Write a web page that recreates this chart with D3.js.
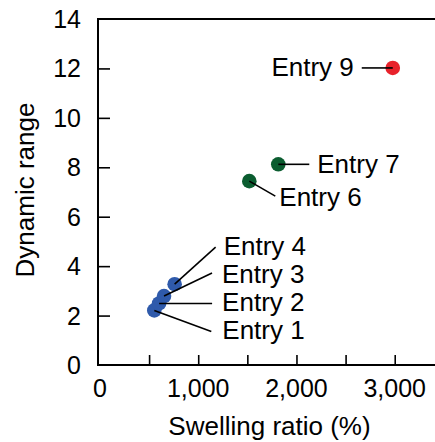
<!DOCTYPE html>
<html>
<head>
<meta charset="utf-8">
<script src="https://cdn.jsdelivr.net/npm/d3@7"></script>
<style>
  html, body { margin: 0; padding: 0; background: #fff; }
  svg { display: block; }
  text { font-family: "Liberation Sans", Arial, Helvetica, sans-serif; fill: #000; }
</style>
</head>
<body>
<svg id="chart" width="435" height="442"></svg>
<script>
// ---- data ----
const entries = ["Entry 1", "Entry 2", "Entry 3", "Entry 4", "Entry 6", "Entry 7", "Entry 9"];
const swellingRatio = [553, 602, 652, 760, 1520, 1815, 2980];
const dynamicRange = [2.21, 2.49, 2.79, 3.27, 7.44, 8.12, 12.02];
const groups = ["A", "A", "A", "A", "B", "B", "C"];
const xTickValues = [0, 1000, 2000, 3000];
const xMinorTicks = [500, 1000, 1500, 2000, 2500, 3000];
const yTickValues = [0, 2, 4, 6, 8, 10, 12, 14];

// ---- styling / layout ----
const groupColor = { A: "#2f5aab", B: "#0b5d30", C: "#e8222b" };
// leader end offset from the point (px) and text offset from the leader end
const labelLayout = [
  { lx: 57, ly: 21, tx: 11, ty: 8, anchor: "start" },
  { lx: 53, ly: 0, tx: 10, ty: 8, anchor: "start" },
  { lx: 48, ly: -23, tx: 10, ty: 10, anchor: "start" },
  { lx: 41, ly: -37, tx: 8, ty: 8, anchor: "start" },
  { lx: 26, ly: 15, tx: 4, ty: 10, anchor: "start" },
  { lx: 31, ly: 0, tx: 8, ty: 9, anchor: "start" },
  { lx: -31, ly: 0, tx: -8, ty: 8, anchor: "end" }
];

const svg = d3.select("#chart");
const tickFont = 25;
const labelFont = 26;
const titleFont = 26;

const x = d3.scaleLinear().domain([-20, 3410]).range([98, 435]);
const y = d3.scaleLinear().domain([0, 14]).range([365, 19]);

const frameLeft = x(-20), frameRight = 440, frameTop = y(14), frameBottom = y(0);

// frame (open on the right where the plot runs to the edge)
svg.append("path")
  .attr("d", `M${frameRight},${frameTop}H${frameLeft}V${frameBottom}H${frameRight}`)
  .attr("fill", "none")
  .attr("stroke", "#000")
  .attr("stroke-width", 2);

// inward ticks
const xAxis = d3.axisTop(x).tickValues(xMinorTicks).tickSize(10).tickFormat("");
svg.append("g").attr("transform", `translate(0,${frameBottom})`).call(xAxis)
  .call(g => g.select(".domain").remove())
  .call(g => g.selectAll("line").attr("stroke-width", 1.6));

const yAxis = d3.axisRight(y).tickValues([2, 4, 6, 8, 10, 12]).tickSize(12).tickFormat("");
svg.append("g").attr("transform", `translate(${frameLeft},0)`).call(yAxis)
  .call(g => g.select(".domain").remove())
  .call(g => g.selectAll("line").attr("stroke-width", 1.6));

// tick labels
const fmt = d3.format(",");
svg.append("g").selectAll("text").data(xTickValues).join("text")
  .attr("x", d => x(d))
  .attr("y", 397)
  .attr("text-anchor", "middle")
  .attr("font-size", tickFont)
  .text(d => fmt(d));

svg.append("g").selectAll("text").data(yTickValues).join("text")
  .attr("x", 81)
  .attr("y", d => y(d))
  .attr("dy", "0.36em")
  .attr("text-anchor", "end")
  .attr("font-size", tickFont)
  .text(d => d);

// axis titles
svg.append("text")
  .attr("x", 269.5)
  .attr("y", 435)
  .attr("text-anchor", "middle")
  .attr("font-size", titleFont)
  .text("Swelling ratio (%)");

svg.append("text")
  .attr("transform", `translate(34,${190}) rotate(-90)`)
  .attr("text-anchor", "middle")
  .attr("font-size", titleFont)
  .text("Dynamic range");

// points
const pts = entries.map((name, i) => ({
  name, sx: x(swellingRatio[i]), sy: y(dynamicRange[i]), group: groups[i], layout: labelLayout[i]
}));

svg.append("g").selectAll("circle").data(pts).join("circle")
  .attr("cx", d => d.sx)
  .attr("cy", d => d.sy)
  .attr("r", 7.3)
  .attr("fill", d => groupColor[d.group]);

// leader lines
svg.append("g").selectAll("line").data(pts).join("line")
  .attr("x1", d => d.sx)
  .attr("y1", d => d.sy)
  .attr("x2", d => d.sx + d.layout.lx)
  .attr("y2", d => d.sy + d.layout.ly)
  .attr("stroke", "#000")
  .attr("stroke-width", 1.6);

// labels
svg.append("g").selectAll("text").data(pts).join("text")
  .attr("x", d => d.sx + d.layout.lx + d.layout.tx)
  .attr("y", d => d.sy + d.layout.ly + d.layout.ty)
  .attr("text-anchor", d => d.layout.anchor)
  .attr("font-size", labelFont)
  .text(d => d.name);
</script>
</body>
</html>
